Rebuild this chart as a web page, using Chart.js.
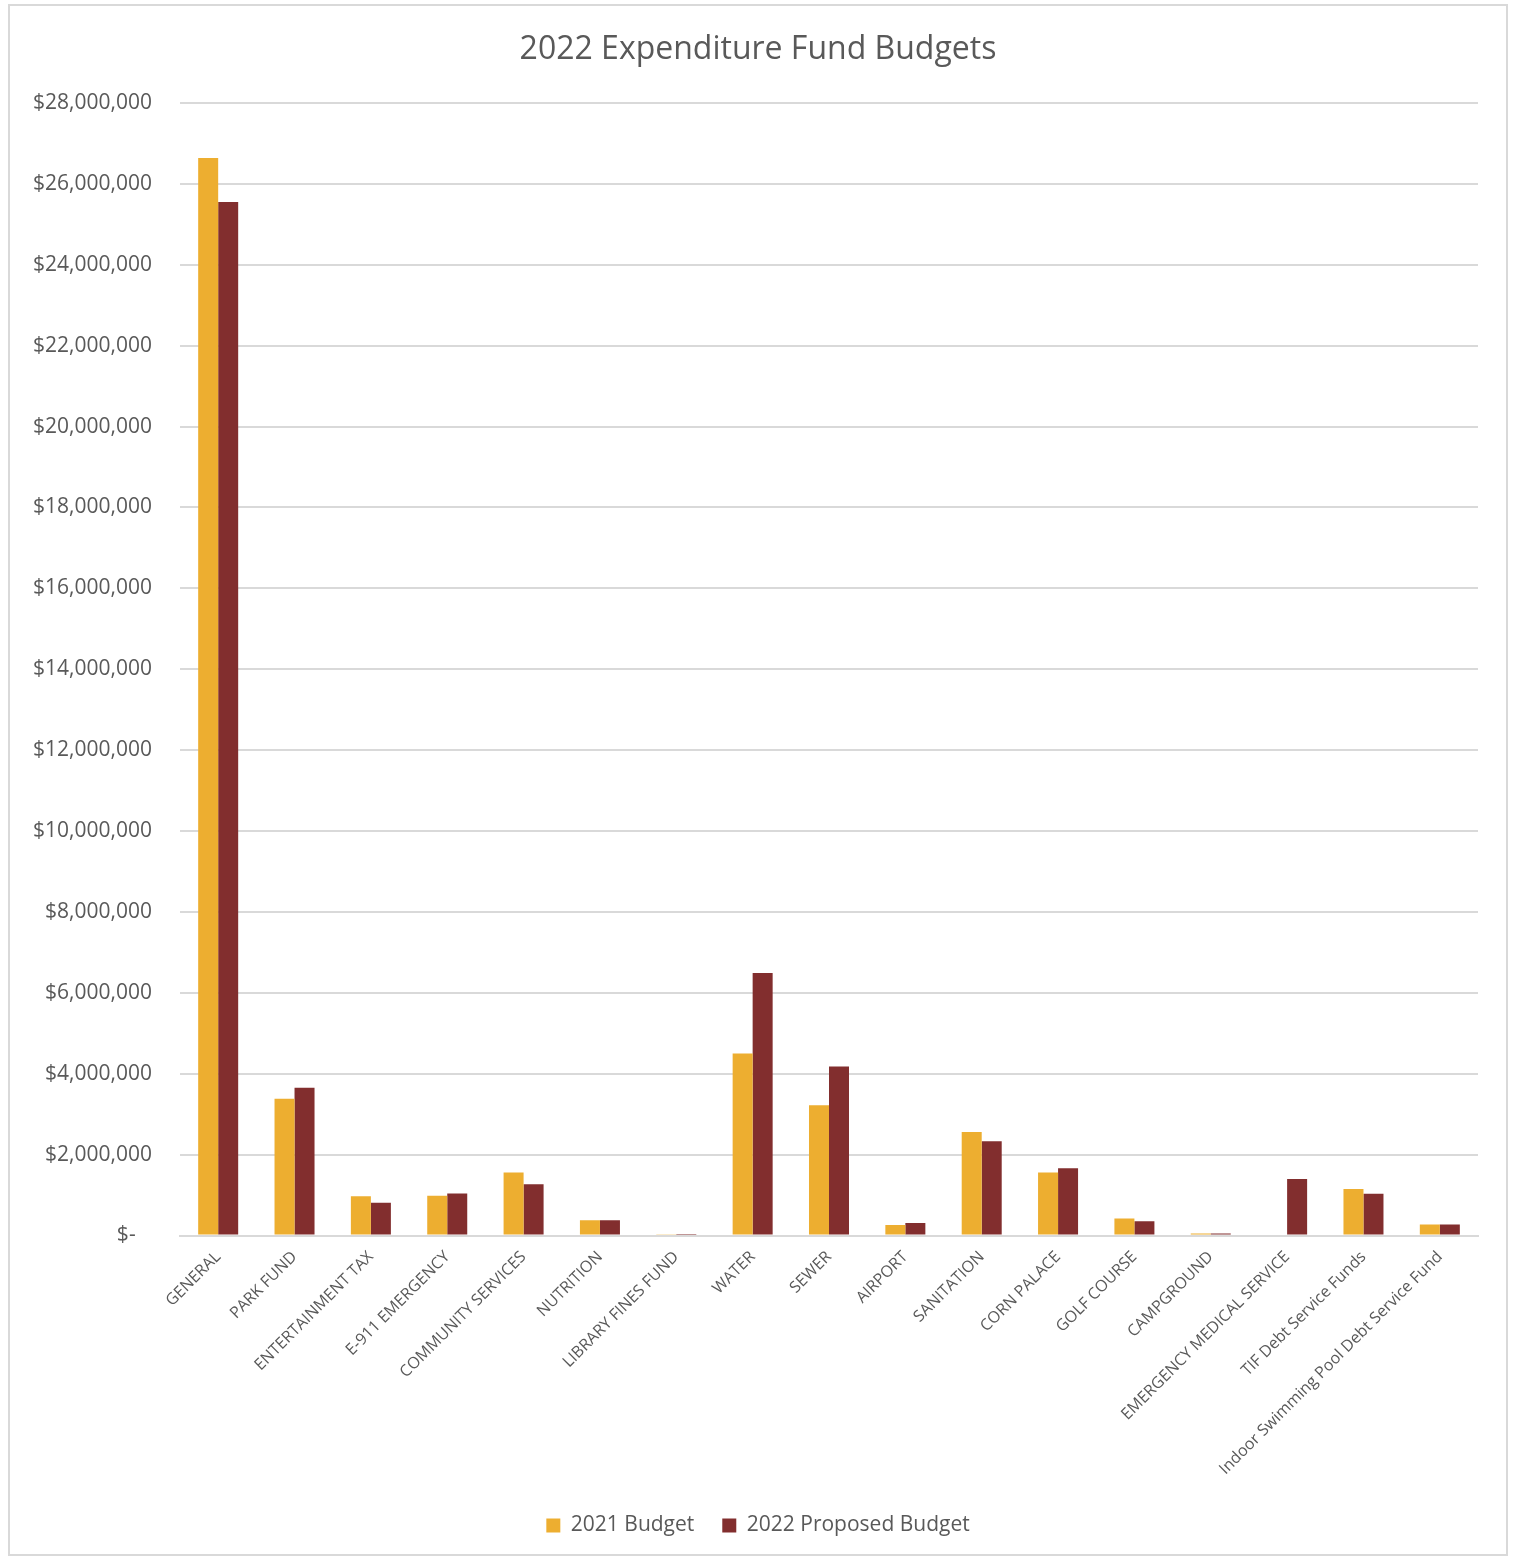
<!DOCTYPE html>
<html>
<head>
<meta charset="utf-8">
<script src="https://cdn.jsdelivr.net/npm/chart.js@4.4.0/dist/chart.umd.min.js"></script>
<style>
  html, body { margin: 0; padding: 0; background: #fff; }
  #wrap { position: absolute; left: 0; top: 0; width: 1516px; height: 1558px; }
  #frame {
    position: absolute; left: 8px; top: 4px; width: 1500px; height: 1552px;
    border: 2px solid #d9d9d9; box-sizing: border-box; pointer-events: none;
  }
</style>
</head>
<body>
<div id="wrap">
  <canvas id="myChart" width="1516" height="1558"></canvas>
  <div id="frame"></div>
</div>
<script>
const funds = [
  "GENERAL", "PARK FUND", "ENTERTAINMENT TAX", "E-911 EMERGENCY", "COMMUNITY SERVICES",
  "NUTRITION", "LIBRARY FINES FUND", "WATER", "SEWER", "AIRPORT", "SANITATION",
  "CORN PALACE", "GOLF COURSE", "CAMPGROUND", "EMERGENCY MEDICAL SERVICE",
  "TIF Debt Service Funds", "Indoor Swimming Pool Debt Service Fund"
];
const budget2021 = [
  26640000, 3380000, 970000, 980000, 1560000, 380000, 20000, 4500000, 3220000,
  260000, 2560000, 1560000, 420000, 50000, 0, 1150000, 270000
];
const budget2022 = [
  25550000, 3650000, 810000, 1040000, 1270000, 380000, 35000, 6490000, 4180000,
  310000, 2330000, 1660000, 355000, 50000, 1400000, 1030000, 270000
];
const yMax = 28000000;
const yStep = 2000000;

const textColor = "#595959";
const gridColor = "#d9d9d9";
const font = "'Open Sans', 'Noto Sans', sans-serif";

function money(v) {
  if (v === 0) return "$-   ";
  return "$" + v.toLocaleString("en-US");
}

new Chart(document.getElementById("myChart"), {
  type: "bar",
  data: {
    labels: funds,
    datasets: [
      {
        label: "2021 Budget",
        data: budget2021,
        backgroundColor: "#edae30",
        categoryPercentage: 0.524,
        barPercentage: 1.0,
      },
      {
        label: "2022 Proposed Budget",
        data: budget2022,
        backgroundColor: "#822e2e",
        categoryPercentage: 0.524,
        barPercentage: 1.0,
      },
    ],
  },
  options: {
    responsive: false,
    animation: false,
    layout: { padding: { left: 0, right: 0, top: 0, bottom: 12 } },
    plugins: {
      title: {
        display: true,
        text: "2022 Expenditure Fund Budgets",
        color: textColor,
        font: { family: font, size: 32, weight: "normal", lineHeight: 1.2 },
        padding: { top: 31, bottom: 33.6 },
      },
      legend: {
        position: "bottom",
        labels: {
          color: textColor,
          font: { family: font, size: 21 },
          boxWidth: 14,
          boxHeight: 14,
          padding: 28,
        },
      },
      tooltip: { enabled: false },
    },
    scales: {
      x: {
        grid: { display: false },
        border: { color: gridColor, width: 2 },
        ticks: {
          color: textColor,
          font: { family: font, size: 16 },
          minRotation: 45,
          maxRotation: 45,
          autoSkip: false,
          padding: 4,
        },
        afterFit: (scale) => { scale.height = 251.5; },
      },
      y: {
        min: 0,
        max: yMax,
        border: { display: false },
        grid: { color: gridColor, lineWidth: 2, drawTicks: false },
        ticks: {
          stepSize: yStep,
          color: textColor,
          font: { family: font, size: 21 },
          padding: 28,
          callback: (v) => money(v),
        },
        afterFit: (scale) => { scale.width = 180; },
      },
      // empty right-hand margin so the title and legend centre on the page
      spacer: {
        type: "linear",
        position: "right",
        grid: { display: false },
        border: { display: false },
        ticks: { display: false },
        afterFit: (scale) => { scale.width = 38; },
      },
    },
  },
});
</script>
</body>
</html>
